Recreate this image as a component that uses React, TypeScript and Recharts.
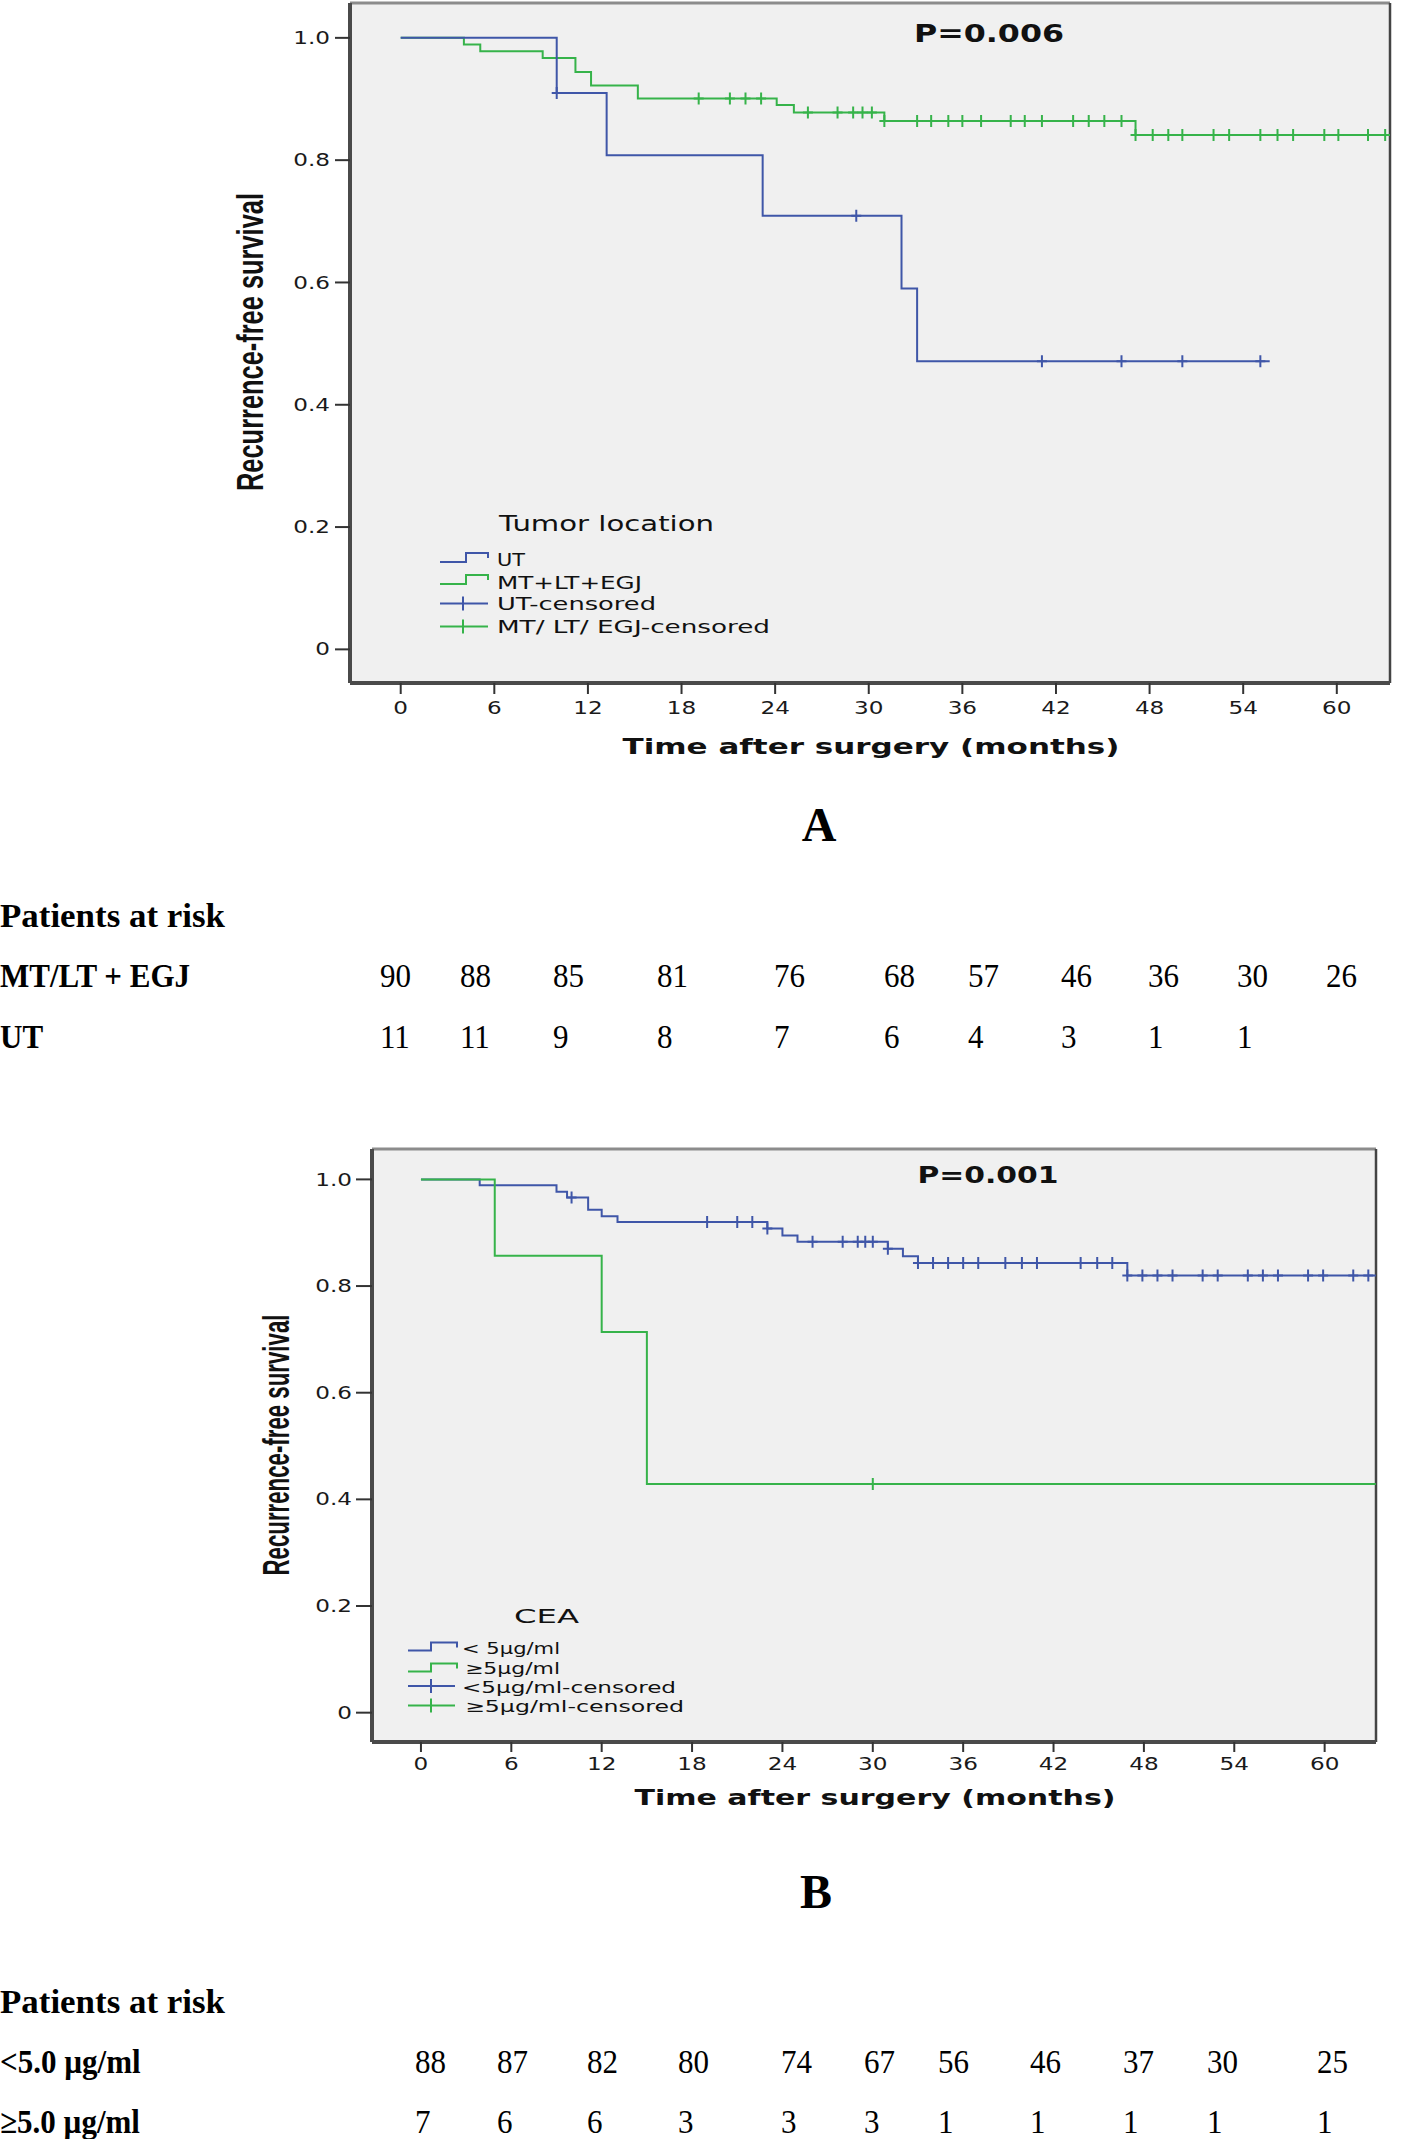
import React from 'react';
import { ComposedChart, Line, Scatter, XAxis, YAxis, CartesianGrid, ReferenceLine } from 'recharts';

// ---------- shared axis data ----------
const monthTicks = [0, 6, 12, 18, 24, 30, 36, 42, 48, 54, 60];
const survivalTicks = [0, 0.2, 0.4, 0.6, 0.8, 1.0];
const survivalTickLabels = ['0', '0.2', '0.4', '0.6', '0.8', '1.0'];

// ---------- Panel A: tumor location ----------
const utCurve = [
  { t: 0, s: 1 }, { t: 10.0, s: 0.91 }, { t: 13.2, s: 0.808 }, { t: 23.2, s: 0.709 },
  { t: 32.1, s: 0.59 }, { t: 33.1, s: 0.471 }, { t: 55.7, s: 0.471 },
];
const mtCurve = [
  { t: 0, s: 1 }, { t: 4.05, s: 0.989 }, { t: 5.1, s: 0.978 }, { t: 9.1, s: 0.967 },
  { t: 11.2, s: 0.944 }, { t: 12.2, s: 0.922 }, { t: 15.2, s: 0.901 }, { t: 24.1, s: 0.89 },
  { t: 25.2, s: 0.878 }, { t: 31.0, s: 0.864 }, { t: 47.1, s: 0.841 }, { t: 63.4, s: 0.841 },
];
const utCensored = [
  { t: 10.0, s: 0.91 }, { t: 29.2, s: 0.709 }, { t: 41.1, s: 0.471 }, { t: 46.2, s: 0.471 },
  { t: 50.1, s: 0.471 }, { t: 55.1, s: 0.471 },
];
const mtCensored = [
  { t: 19.1, s: 0.901 }, { t: 21.1, s: 0.901 }, { t: 22.1, s: 0.901 }, { t: 23.1, s: 0.901 },
  { t: 26.1, s: 0.878 }, { t: 28.0, s: 0.878 }, { t: 29.0, s: 0.878 }, { t: 29.6, s: 0.878 }, { t: 30.2, s: 0.878 },
  { t: 31.0, s: 0.864 }, { t: 33.1, s: 0.864 }, { t: 34.0, s: 0.864 }, { t: 35.1, s: 0.864 }, { t: 36.0, s: 0.864 },
  { t: 37.2, s: 0.864 }, { t: 39.1, s: 0.864 }, { t: 40.0, s: 0.864 }, { t: 41.1, s: 0.864 }, { t: 43.1, s: 0.864 },
  { t: 44.1, s: 0.864 }, { t: 45.1, s: 0.864 }, { t: 46.2, s: 0.864 },
  { t: 47.1, s: 0.841 }, { t: 48.2, s: 0.841 }, { t: 49.2, s: 0.841 }, { t: 50.1, s: 0.841 }, { t: 52.1, s: 0.841 },
  { t: 53.1, s: 0.841 }, { t: 55.1, s: 0.841 }, { t: 56.2, s: 0.841 }, { t: 57.2, s: 0.841 }, { t: 59.2, s: 0.841 },
  { t: 60.1, s: 0.841 }, { t: 62.0, s: 0.841 }, { t: 63.1, s: 0.841 },
];
const legendTitleA = 'Tumor location';
const legendLabelsA = ['UT', 'MT+LT+EGJ', 'UT-censored', 'MT/ LT/ EGJ-censored'];
const pValueA = 'P=0.006';
const riskGroupsA = ['MT/LT + EGJ', 'UT'];
const riskMtA = [90, 88, 85, 81, 76, 68, 57, 46, 36, 30, 26];
const riskUtA = [11, 11, 9, 8, 7, 6, 4, 3, 1, 1];

// ---------- Panel B: CEA ----------
const ceaLowCurve = [
  { t: 0, s: 1 }, { t: 3.9, s: 0.989 }, { t: 9.0, s: 0.977 }, { t: 9.7, s: 0.966 },
  { t: 11.1, s: 0.943 }, { t: 12.0, s: 0.931 }, { t: 13.05, s: 0.92 }, { t: 23.0, s: 0.908 },
  { t: 24.0, s: 0.895 }, { t: 25.0, s: 0.883 }, { t: 31.0, s: 0.87 }, { t: 32.0, s: 0.856 },
  { t: 33.0, s: 0.843 }, { t: 46.9, s: 0.82 }, { t: 63.4, s: 0.82 },
];
const ceaHighCurve = [
  { t: 0, s: 1 }, { t: 4.9, s: 0.857 }, { t: 12.0, s: 0.714 }, { t: 15.0, s: 0.429 }, { t: 63.4, s: 0.429 },
];
const ceaLowCensored = [
  { t: 10.0, s: 0.966 }, { t: 19.0, s: 0.92 }, { t: 21.0, s: 0.92 }, { t: 22.0, s: 0.92 }, { t: 23.0, s: 0.908 },
  { t: 26.0, s: 0.883 }, { t: 28.0, s: 0.883 }, { t: 29.0, s: 0.883 }, { t: 29.5, s: 0.883 }, { t: 30.0, s: 0.883 },
  { t: 31.0, s: 0.87 },
  { t: 33.0, s: 0.843 }, { t: 34.0, s: 0.843 }, { t: 35.0, s: 0.843 }, { t: 36.0, s: 0.843 }, { t: 37.0, s: 0.843 },
  { t: 38.8, s: 0.843 }, { t: 39.9, s: 0.843 }, { t: 40.9, s: 0.843 }, { t: 43.8, s: 0.843 }, { t: 44.9, s: 0.843 },
  { t: 45.9, s: 0.843 },
  { t: 46.9, s: 0.82 }, { t: 47.9, s: 0.82 }, { t: 48.9, s: 0.82 }, { t: 49.9, s: 0.82 }, { t: 51.9, s: 0.82 },
  { t: 52.9, s: 0.82 }, { t: 54.9, s: 0.82 }, { t: 55.9, s: 0.82 }, { t: 56.9, s: 0.82 }, { t: 58.9, s: 0.82 },
  { t: 59.9, s: 0.82 }, { t: 61.9, s: 0.82 }, { t: 62.9, s: 0.82 },
];
const ceaHighCensored = [{ t: 30.0, s: 0.429 }];
const legendTitleB = 'CEA';
const legendLabelsB = ['< 5µg/ml', '≥5µg/ml', '<5µg/ml-censored', '≥5µg/ml-censored'];
const pValueB = 'P=0.001';
const riskGroupsB = ['<5.0 µg/ml', '≥5.0 µg/ml'];
const riskLowB = [88, 87, 82, 80, 74, 67, 56, 46, 37, 30, 25];
const riskHighB = [7, 6, 6, 3, 3, 3, 1, 1, 1, 1, 1];

const yTitle = 'Recurrence-free survival';
const xTitle = 'Time after surgery (months)';
const riskTitle = 'Patients at risk';

// ---------- styling / layout ----------
const BLUE = '#3f56a8';
const GREEN = '#36b34a';
const SANS = 'DejaVu Sans';
const SERIF = 'Liberation Serif';
const X_DOMAIN: [number, number] = [-3.25, 63.41];
const Y_DOMAIN: [number, number] = [-0.055, 1.057];
const riskColsA = [380, 460, 553, 657, 774, 884, 968, 1061, 1148, 1237, 1326];
const riskColsB = [415, 497, 587, 678, 781, 864, 938, 1030, 1123, 1207, 1317];
const TABLE_FONT = 33;
const TABLE_SX = 0.94;

const XTick = (props: any) => {
  const { x, y, payload } = props;
  return (
    <g transform={`translate(${x},${y})`}>
      <text transform="scale(1.36,1)" textAnchor="middle" dy="0.71em" fontFamily={SANS} fontSize={17} fill="#1a1a1a">
        {payload.value}
      </text>
    </g>
  );
};

const YTick = (props: any) => {
  const { x, y, payload } = props;
  const idx = survivalTicks.indexOf(payload.value);
  return (
    <g transform={`translate(${x},${y})`}>
      <text transform="scale(1.36,1)" textAnchor="end" dy="0.36em" fontFamily={SANS} fontSize={17} fill="#1a1a1a">
        {idx >= 0 ? survivalTickLabels[idx] : payload.value}
      </text>
    </g>
  );
};

const makeCensor = (color: string) => (props: any) => {
  const { cx, cy } = props;
  if (cx == null || cy == null) return <g />;
  return (
    <path d={`M${cx - 5},${cy} H${cx + 5} M${cx},${cy - 6} V${cy + 6}`} stroke={color} strokeWidth={2} fill="none" />
  );
};

type Pt = { t: number; s: number };
type KMProps = {
  top: number; height: number; margin: any; yAxisWidth: number;
  tickSizeY: number; tickMarginY: number; tickSizeX: number; tickMarginX: number;
  first: { data: Pt[]; color: string; name: string };
  second: { data: Pt[]; color: string; name: string };
  firstCens: { data: Pt[]; color: string; name: string };
  secondCens: { data: Pt[]; color: string; name: string };
};

const KMChart = (p: KMProps) => (
  <div style={{ position: 'absolute', left: 0, top: p.top, width: 1418, height: p.height }}>
    <ComposedChart width={1418} height={p.height} margin={p.margin}>
      <CartesianGrid horizontal={false} vertical={false} fill="#f0f0f0" stroke="none" />
      <XAxis
        dataKey="t" type="number" domain={X_DOMAIN} ticks={monthTicks} allowDataOverflow interval={0}
        height={60} tickSize={p.tickSizeX} tickMargin={p.tickMarginX}
        axisLine={{ stroke: '#4a4a4a', strokeWidth: 4 }} tickLine={{ stroke: '#333', strokeWidth: 2 }}
        tick={(tp: any) => <XTick {...tp} />}
      />
      <YAxis
        type="number" domain={Y_DOMAIN} ticks={survivalTicks} allowDataOverflow interval={0}
        width={p.yAxisWidth} tickSize={p.tickSizeY} tickMargin={p.tickMarginY}
        axisLine={{ stroke: '#4a4a4a', strokeWidth: 4 }} tickLine={{ stroke: '#333', strokeWidth: 2 }}
        tick={(tp: any) => <YTick {...tp} />}
      />
      <ReferenceLine y={Y_DOMAIN[1]} stroke="#8c8c8c" strokeWidth={3} />
      <ReferenceLine x={X_DOMAIN[1]} stroke="#444" strokeWidth={2.5} />
      <Line data={p.first.data} dataKey="s" name={p.first.name} type="stepAfter" stroke={p.first.color}
        strokeWidth={2} dot={false} activeDot={false} isAnimationActive={false} />
      <Line data={p.second.data} dataKey="s" name={p.second.name} type="stepAfter" stroke={p.second.color}
        strokeWidth={2} dot={false} activeDot={false} isAnimationActive={false} />
      <Scatter data={p.firstCens.data} dataKey="s" name={p.firstCens.name} fill={p.firstCens.color}
        shape={makeCensor(p.firstCens.color)} isAnimationActive={false} />
      <Scatter data={p.secondCens.data} dataKey="s" name={p.secondCens.name} fill={p.secondCens.color}
        shape={makeCensor(p.secondCens.color)} isAnimationActive={false} />
    </ComposedChart>
  </div>
);

const Txt = (p: {
  x: number; y: number; text: string; size: number; bold?: boolean; family?: string;
  anchor?: string; len?: number; sx?: number; rot?: number; fill?: string;
}) => {
  let tr = `translate(${p.x},${p.y})`;
  if (p.rot) tr += ` rotate(${p.rot})`;
  if (p.sx && p.sx !== 1) tr += ` scale(${p.sx},1)`;
  return (
    <text transform={tr} x={0} y={0} fontFamily={p.family || SANS} fontSize={p.size}
      fontWeight={p.bold ? 'bold' : 'normal'} textAnchor={(p.anchor as any) || 'start'}
      textLength={p.len} lengthAdjust={p.len ? 'spacingAndGlyphs' : undefined} fill={p.fill || '#111'}>
      {p.text}
    </text>
  );
};

const StepIcon = ({ x0, x1, x2, low, high, color }: any) => (
  <path d={`M${x0},${low} H${x1} V${high} H${x2} V${high + 5}`} stroke={color} strokeWidth={2} fill="none" />
);
const CensIcon = ({ x0, xc, x2, y, h, color }: any) => (
  <path d={`M${x0},${y} H${x2} M${xc},${y - h} V${y + h}`} stroke={color} strokeWidth={2} fill="none" />
);

const TableText = ({ x, y, text, bold }: any) => (
  <Txt x={x} y={y} text={text} size={TABLE_FONT} bold={bold} family={SERIF} fill="#000" sx={TABLE_SX} />
);

const Overlay = () => (
  <svg width={1418} height={2139} style={{ position: 'absolute', left: 0, top: 0, pointerEvents: 'none' }}>
    {/* Panel A texts */}
    <Txt x={263} y={342} rot={-90} text={yTitle} size={37} bold family="Liberation Sans" anchor="middle" len={298} />
    <Txt x={871} y={754} text={xTitle} size={22} bold anchor="middle" len={497} />
    <Txt x={989} y={42} text={pValueA} size={24} bold anchor="middle" len={150} />
    <Txt x={499} y={531} text={legendTitleA} size={21} len={215} />
    <StepIcon x0={440} x1={466} x2={488} low={562} high={553} color={BLUE} />
    <StepIcon x0={440} x1={466} x2={488} low={584} high={575} color={GREEN} />
    <CensIcon x0={440} xc={463} x2={488} y={603.5} h={7} color={BLUE} />
    <CensIcon x0={440} xc={463} x2={488} y={626.5} h={7} color={GREEN} />
    <Txt x={497} y={566} text={legendLabelsA[0]} size={18} len={28} />
    <Txt x={497} y={589} text={legendLabelsA[1]} size={18} len={145} />
    <Txt x={497} y={610} text={legendLabelsA[2]} size={18} len={159} />
    <Txt x={497} y={633} text={legendLabelsA[3]} size={18} len={273} />
    <Txt x={819} y={841} text="A" size={48} bold family={SERIF} anchor="middle" fill="#000" />

    {/* Panel A risk table */}
    <Txt x={0} y={927} text={riskTitle} size={TABLE_FONT} bold family={SERIF} fill="#000" len={225} />
    <TableText x={0} y={987} text={riskGroupsA[0]} bold />
    <TableText x={0} y={1048} text={riskGroupsA[1]} bold />
    {riskMtA.map((v, i) => <TableText key={'ma' + i} x={riskColsA[i]} y={987} text={String(v)} />)}
    {riskUtA.map((v, i) => <TableText key={'ua' + i} x={riskColsA[i]} y={1048} text={String(v)} />)}

    {/* Panel B texts */}
    <Txt x={289} y={1445} rot={-90} text={yTitle} size={37} bold family="Liberation Sans" anchor="middle" len={261} />
    <Txt x={875} y={1805} text={xTitle} size={22} bold anchor="middle" len={481} />
    <Txt x={988} y={1183} text={pValueB} size={23} bold anchor="middle" len={141} />
    <Txt x={514} y={1623} text={legendTitleB} size={20} len={65} />
    <StepIcon x0={408} x1={431} x2={457} low={1650.5} high={1642.5} color={BLUE} />
    <StepIcon x0={408} x1={431} x2={457} low={1671.5} high={1663.5} color={GREEN} />
    <CensIcon x0={408} xc={431} x2={455} y={1686} h={7} color={BLUE} />
    <CensIcon x0={408} xc={431} x2={455} y={1705.5} h={7} color={GREEN} />
    <Txt x={462} y={1654} text={legendLabelsB[0]} size={16} len={98} />
    <Txt x={465} y={1674} text={legendLabelsB[1]} size={16} len={95} />
    <Txt x={462} y={1693} text={legendLabelsB[2]} size={16} len={214} />
    <Txt x={465} y={1712} text={legendLabelsB[3]} size={16} len={219} />
    <Txt x={816} y={1908} text="B" size={48} bold family={SERIF} anchor="middle" fill="#000" />

    {/* Panel B risk table */}
    <Txt x={0} y={2013} text={riskTitle} size={TABLE_FONT} bold family={SERIF} fill="#000" len={225} />
    <TableText x={0} y={2073} text={riskGroupsB[0]} bold />
    <TableText x={0} y={2133} text={riskGroupsB[1]} bold />
    {riskLowB.map((v, i) => <TableText key={'lb' + i} x={riskColsB[i]} y={2073} text={String(v)} />)}
    {riskHighB.map((v, i) => <TableText key={'hb' + i} x={riskColsB[i]} y={2133} text={String(v)} />)}
  </svg>
);

export default function App() {
  return (
    <div style={{ position: 'absolute', left: 0, top: 0, width: 1418, height: 2139, background: '#fff', overflow: 'hidden' }}>
      <KMChart
        top={0} height={800} margin={{ top: 3, right: 28, left: 0, bottom: 57 }} yAxisWidth={350}
        tickSizeY={15} tickMarginY={5} tickSizeX={11} tickMarginX={8}
        first={{ data: mtCurve, color: GREEN, name: legendLabelsA[1] }}
        second={{ data: utCurve, color: BLUE, name: legendLabelsA[0] }}
        firstCens={{ data: mtCensored, color: GREEN, name: legendLabelsA[3] }}
        secondCens={{ data: utCensored, color: BLUE, name: legendLabelsA[2] }}
      />
      <KMChart
        top={1100} height={760} margin={{ top: 49, right: 42, left: 0, bottom: 58 }} yAxisWidth={372}
        tickSizeY={16} tickMarginY={4} tickSizeX={10} tickMarginX={6}
        first={{ data: ceaLowCurve, color: BLUE, name: legendLabelsB[0] }}
        second={{ data: ceaHighCurve, color: GREEN, name: legendLabelsB[1] }}
        firstCens={{ data: ceaLowCensored, color: BLUE, name: legendLabelsB[2] }}
        secondCens={{ data: ceaHighCensored, color: GREEN, name: legendLabelsB[3] }}
      />
      <Overlay />
    </div>
  );
}
